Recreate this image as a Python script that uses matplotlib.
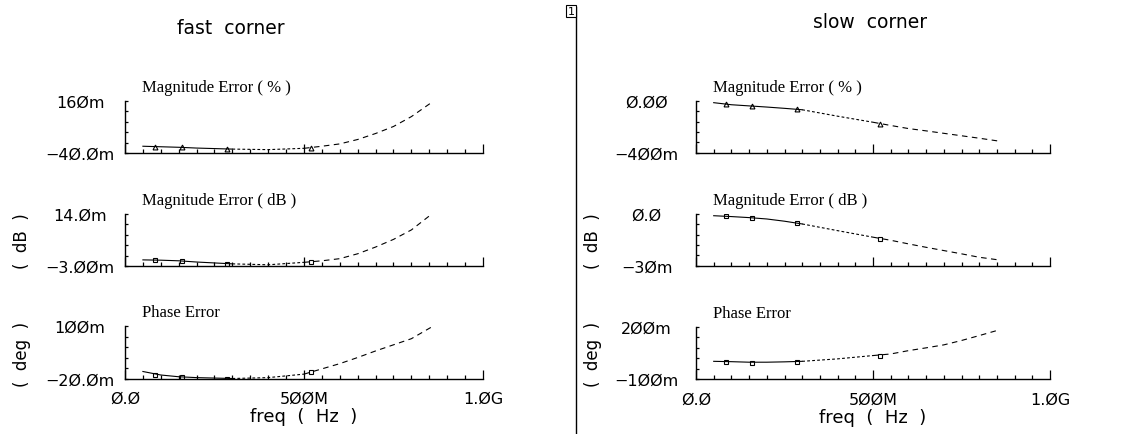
import numpy as np
import matplotlib
matplotlib.use("Agg")
import matplotlib.pyplot as plt
from matplotlib.transforms import offset_copy

# frequency points (GHz) for each trace
freq = [0.05, 0.1, 0.15, 0.2, 0.25, 0.3, 0.4, 0.5, 0.55, 0.6, 0.65, 0.7, 0.75, 0.8, 0.857]
mark_freq = [0.084, 0.158, 0.284, 0.52]

# fast corner (values in milli-units)
fast_mag_pct = [-14, -16, -18, -21, -23, -25, -27, -22, -14, -5, 12, 35, 62, 100, 155]
fast_mag_db = [-1.0, -1.1, -1.3, -1.7, -2.0, -2.3, -2.6, -1.8, -1.3, -0.6, 1.0, 3.2, 5.7, 8.8, 14.0]
fast_phase = [-4, -12, -16, -18, -19, -20, -18, -10, 2, 14, 28, 43, 57, 71, 98]
fast_mag_pct_mk = [-15, -18, -24, -20]
fast_mag_db_mk = [-1.0, -1.3, -2.2, -1.6]
fast_phase_mk = [-12, -16, -20, -6]

# slow corner
slow_mag_pct = [-13, -29, -38, -47, -57, -68, -118, -165, -190, -214, -232, -251, -270, -289, -312]
slow_mag_db = [-1.0, -1.5, -2.1, -2.9, -4.2, -5.8, -9.7, -13.5, -15.3, -17.4, -19.4, -21.3, -23.2, -25.2, -26.8]
slow_phase = [1, -1, -4, -4, -2, 1, 15, 34, 43, 62, 78, 95, 120, 148, 181]
slow_mag_pct_mk = [-20, -36, -62, -178]
slow_mag_db_mk = [-1.3, -2.1, -5.4, -14.3]
slow_phase_mk = [-4, -8, -4, 34]

titles = ["Magnitude Error ( % )", "Magnitude Error ( dB )", "Phase Error"]
fast_ylims = [(-40, 160), (-3, 14), (-20, 100)]
slow_ylims = [(-400, 0), (-30, 0), (-100, 200)]
fast_ylabels = [("−4Ø.Øm", "16Øm"), ("−3.ØØm", "14.Øm"), ("−2Ø.Øm", "1ØØm")]
slow_ylabels = [("−4ØØm", "Ø.ØØ"), ("−3Øm", "Ø.Ø"), ("−1ØØm", "2ØØm")]
xtick_labels = ["Ø.Ø", "5ØØM", "1.ØG"]
markers = ["^", "s", "s"]

W, H = 1128, 435
fig = plt.figure(figsize=(W / 100, H / 100), dpi=100)
fig.patch.set_facecolor("white")

tickfont = dict(family="DejaVu Sans", size=11.5)


def make_axes(left_px, width_px, rows_px):
    axes = []
    for top, bot in rows_px:
        ax = fig.add_axes([left_px / W, 1 - bot / H, width_px / W, (bot - top) / H])
        axes.append(ax)
    return axes


def draw_panel(axes, data, marks, ylims, ylabels, ypad):
    f = np.array(freq) * 1e9
    for i, ax in enumerate(axes):
        y = np.array(data[i])
        s1 = f <= 0.3e9
        s2 = (f >= 0.3e9) & (f <= 0.5e9)
        s3 = f >= 0.5e9
        ax.plot(f[s1], y[s1], color="black", lw=0.8)
        ax.plot(f[s2], y[s2], color="black", lw=0.8, dashes=(2.5, 2))
        ax.plot(f[s3], y[s3], color="black", lw=0.8, dashes=(5, 4))
        ax.plot(np.array(mark_freq) * 1e9, marks[i], ls="none", marker=markers[i],
                ms=3.5, mfc="none", mec="black", mew=0.8)
        lo, hi = ylims[i]
        ax.set_xlim(0, 1e9)
        ax.set_ylim(lo, hi)
        for sp in ("top", "right"):
            ax.spines[sp].set_visible(False)
        for sp in ("left", "bottom"):
            ax.spines[sp].set_linewidth(1.0)
        yt = np.linspace(lo, hi, 6)
        ax.set_yticks(yt)
        ax.set_yticklabels([ylabels[i][0], "", "", "", "", ylabels[i][1]], **tickfont)
        for lab in ax.get_yticklabels():
            lab.set_horizontalalignment("center")
        ax.tick_params(axis="y", direction="in", length=2.4, width=0.9, pad=ypad)
        ax.set_xticks([0, 0.5e9, 1e9])
        ax.set_xticks(np.arange(0, 1.0001e9, 0.05e9), minor=True)
        ax.tick_params(axis="x", which="major", direction="in", length=6.5, width=0.9, pad=9)
        ax.tick_params(axis="x", which="minor", direction="in", length=3, width=0.9)
        if i == 2:
            ax.set_xticklabels(xtick_labels, **tickfont)
            ax.set_xlabel("freq  (  Hz  )", family="DejaVu Sans", fontsize=13, labelpad=1)
        else:
            ax.set_xticklabels([])
        tr = offset_copy(ax.transAxes, fig=fig, x=0, y=7, units="points")
        ax.text(0.047, 1.0, titles[i], transform=tr, family="Liberation Serif",
                fontsize=12, ha="left", va="baseline")


left_axes = make_axes(125, 358, [(102, 154), (215, 267), (327, 379.5)])
right_axes = make_axes(696, 354, [(102, 153.5), (215, 266.5), (327.5, 380)])

draw_panel(left_axes, [fast_mag_pct, fast_mag_db, fast_phase],
           [fast_mag_pct_mk, fast_mag_db_mk, fast_phase_mk],
           fast_ylims, fast_ylabels, 32.4)
draw_panel(right_axes, [slow_mag_pct, slow_mag_db, slow_phase],
           [slow_mag_pct_mk, slow_mag_db_mk, slow_phase_mk],
           slow_ylims, slow_ylabels, 35.6)

fig.text(231 / W, 1 - 28 / H, "fast  corner", family="DejaVu Sans", fontsize=13.5,
         ha="center", va="center")
fig.text(870 / W, 1 - 22 / H, "slow  corner", family="DejaVu Sans", fontsize=13.5,
         ha="center", va="center")

for xc in (22, 593):
    fig.text(xc / W, 1 - 241 / H, "(  dB  )", family="DejaVu Sans", fontsize=12,
             rotation=90, ha="center", va="center")
    fig.text(xc / W, 1 - 354 / H, "(  deg  )", family="DejaVu Sans", fontsize=12,
             rotation=90, ha="center", va="center")

# separator between the two corners
fig.add_artist(plt.Line2D([575.5 / W, 575.5 / W], [0, 1 - 8 / H], color="black", lw=1.0))
fig.text(571 / W, 1 - 12 / H, "1", family="DejaVu Sans", fontsize=8, ha="center", va="center",
         bbox=dict(boxstyle="square,pad=0.1", fc="white", ec="black", lw=0.8))

fig.savefig("out.png", dpi=100, facecolor="white")
